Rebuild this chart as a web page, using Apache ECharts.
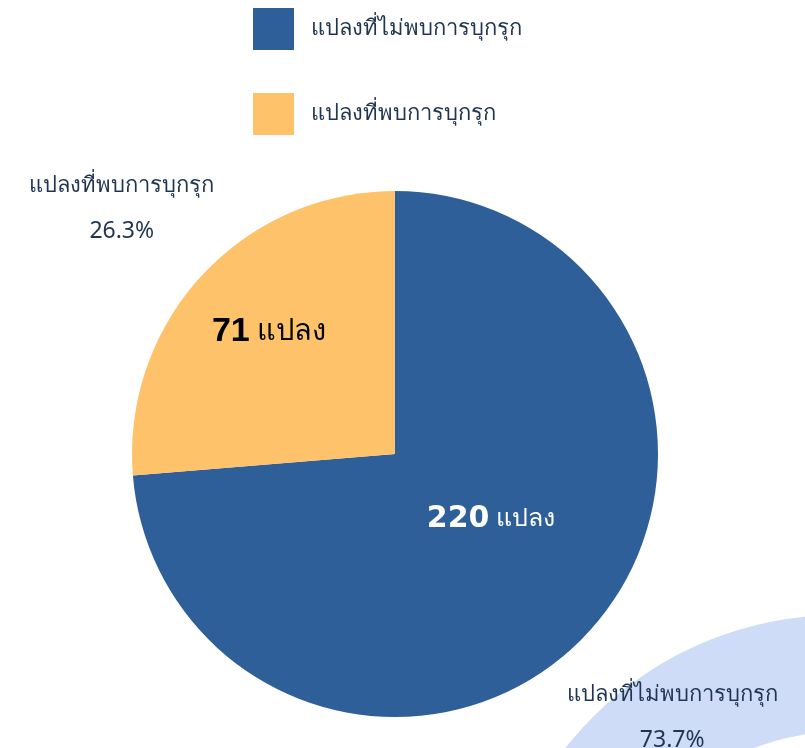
<!DOCTYPE html>
<html>
<head>
<meta charset="utf-8">
<title>แปลงที่พบการบุกรุก</title>
<script src="https://cdn.jsdelivr.net/npm/echarts@6/dist/echarts.min.js"></script>
<style>
  html, body { margin: 0; padding: 0; background: #fff; }
  #chart { width: 805px; height: 748px; }
</style>
</head>
<body>
<div id="chart"></div>
<script>
// ข้อมูลแปลง
const categories = ['แปลงที่ไม่พบการบุกรุก', 'แปลงที่พบการบุกรุก'];
const plotCounts = [220, 71];
const sharePct = [73.7, 26.3];
const unitText = 'แปลง';

const colors = ['#2f5f98', '#fec26b'];
const textDark = '#1f3550';
const thaiFont = "'Noto Sans', 'DejaVu Sans', sans-serif";

// label tweaks (offsets from the default spots, per slice)
const innerShift = [[-3, -26], [-27, -31]];
const outerShift = [[0, 8], [4, 10]];
const innerLook = [
    { color: '#ffffff', numFont: "'DejaVu Sans', sans-serif", numSize: 30, unitSize: 25 },
    { color: '#000000', numFont: "'Liberation Sans', Arial, sans-serif", numSize: 34, unitSize: 29 }
];

const pieCenter = [395, 454];
const pieRadius = 263;

let chart = echarts.init(document.getElementById('chart'));

let option = {
    backgroundColor: '#fff',
    animation: false,
    color: colors,
    legend: {
        orient: 'vertical',
        left: 248,
        top: 3,
        itemWidth: 41,
        itemHeight: 42,
        itemGap: 43,
        icon: 'rect',
        data: categories,
        textStyle: {
            fontFamily: thaiFont,
            fontSize: 22,
            color: textDark,
            padding: [0, 0, 0, 12]
        }
    },
    graphic: [
        {
            // light ring in the corner of the page
            type: 'ring',
            z: -1,
            silent: true,
            shape: { cx: 839, cy: 963, r: 348, r0: 231 },
            style: { fill: '#cfdcf7' }
        }
    ],
    series: [
        {
            name: 'main',
            type: 'pie',
            center: pieCenter,
            radius: [0, pieRadius],
            startAngle: 90,
            clockwise: true,
            silent: true,
            itemStyle: { borderWidth: 0 },
            label: {
                show: true,
                position: 'inside',
                formatter: (p) => '{n|' + plotCounts[p.dataIndex] + '}{u| ' + unitText + '}'
            },
            labelLayout: (p) => ({ dx: innerShift[p.dataIndex][0], dy: innerShift[p.dataIndex][1] }),
            labelLine: { show: false },
            data: categories.map((c, i) => ({
                name: c,
                value: sharePct[i],
                label: {
                    color: innerLook[i].color,
                    rich: {
                        n: { fontFamily: innerLook[i].numFont, fontWeight: 'bold', fontSize: innerLook[i].numSize, color: innerLook[i].color },
                        u: { fontFamily: thaiFont, fontSize: innerLook[i].unitSize, color: innerLook[i].color }
                    }
                }
            }))
        },
        {
            // transparent band that only carries the outer labels
            name: 'outer',
            type: 'pie',
            center: pieCenter,
            radius: [pieRadius + 103, pieRadius + 119],
            startAngle: 90,
            clockwise: true,
            silent: true,
            legendHoverLink: false,
            itemStyle: { color: 'rgba(0,0,0,0)', borderWidth: 0 },
            label: {
                show: true,
                position: 'inside',
                formatter: (p) => '{t|' + p.name + '}\n{v|' + sharePct[p.dataIndex].toFixed(1) + '%}',
                rich: {
                    t: { fontFamily: thaiFont, fontSize: 22, color: textDark, align: 'center', lineHeight: 45 },
                    v: { fontFamily: thaiFont, fontSize: 23, color: textDark, align: 'center', lineHeight: 45 }
                }
            },
            labelLayout: (p) => ({ dx: outerShift[p.dataIndex][0], dy: outerShift[p.dataIndex][1] }),
            labelLine: { show: false },
            data: categories.map((c, i) => ({ name: c, value: sharePct[i] }))
        }
    ]
};

chart.setOption(option);
</script>
</body>
</html>
